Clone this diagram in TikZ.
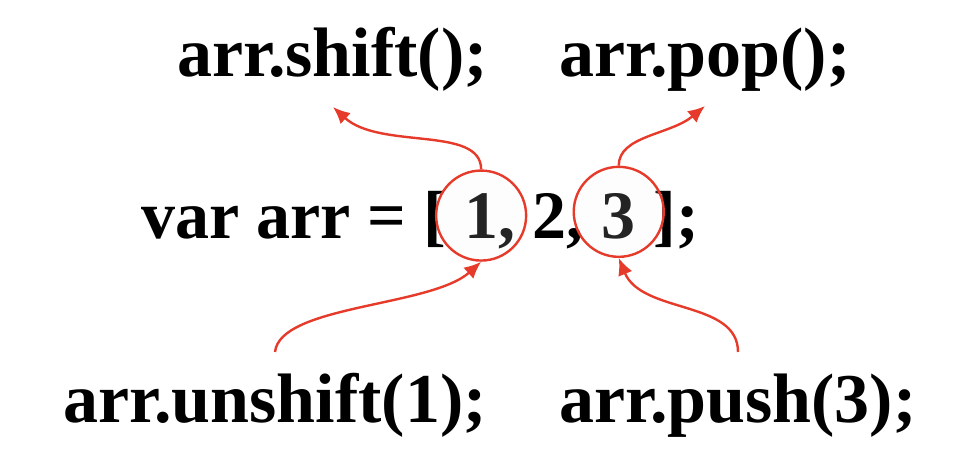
\documentclass[tikz,border=0pt]{standalone}
\usepackage{fontspec}
\setmainfont{Liberation Serif}
\usetikzlibrary{positioning,arrows.meta}
\definecolor{arrred}{RGB}{230,58,42}
\tikzset{
  code/.style={font=\bfseries\fontsize{35}{42}\selectfont, inner sep=0pt, anchor=base west},
  codemain/.style={code, font=\bfseries\fontsize{34}{40}\selectfont},
  ring/.style={circle, draw=arrred, line width=1.2pt, fill=gray!10, fill opacity=0.15, minimum size=45pt, inner sep=0pt},
  flow/.style={draw=arrred, line width=1.2pt, -{Latex[length=8.5pt,width=7.5pt]}}
}
\begin{document}
\begin{tikzpicture}[x=0.5pt, y=-0.5pt]
  \useasboundingbox (0,0) rectangle (970,468);
  \node[code] (shift) at (177,76) {arr.shift();};
  \node[code] (pop) at (559,76) {arr.pop();};
  \node[codemain] (lhs) at (141,238) {var arr = [~\null};
  \node[codemain, base right=0pt of lhs] (one) {1};
  \node[codemain, base right=0pt of one] (two) {,~2,~\null};
  \node[codemain, base right=0pt of two] (three) {3};
  \node[codemain, base right=0pt of three] (rhs) {~];};
  \node[code] (unshift) at (63,422) {arr.unshift(1);};
  \node[code] (push) at (559,422) {arr.push(3);};
  \node[ring] (c1) at (one.center) {};
  \node[ring] (c3) at ([yshift=2pt]three.center) {};
  \coordinate (shifttip) at (333,107);
  \coordinate (poptip) at (705,106);
  \coordinate (unshiftend) at (275,352);
  \coordinate (pushend) at (738,352);
  \draw[flow] (c1.north) .. controls +(0,-44) and +(47,43) .. (shifttip);
  \draw[flow] (c3.north) .. controls +(0,-30) and +(-35,29) .. (poptip);
  \draw[flow] (unshiftend) .. controls +(5,-47) and +(-50,45) .. (c1.south);
  \draw[flow] (pushend) .. controls +(0,-52) and +(23,56) .. (c3.south);
\end{tikzpicture}
\end{document}
